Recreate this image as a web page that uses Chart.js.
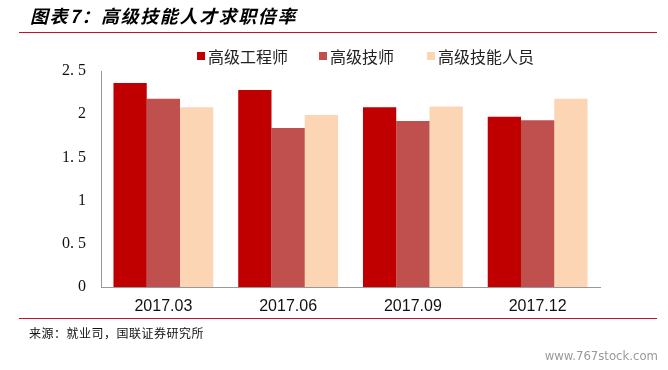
<!DOCTYPE html>
<html>
<head>
<meta charset="utf-8">
<script src="https://cdn.jsdelivr.net/npm/chart.js@4"></script>
<style>
html,body{margin:0;padding:0;background:#fff;}
#wrap{width:668px;height:370px;position:relative;}
</style>
</head>
<body>
<div id="wrap"><canvas id="c" width="668" height="370"></canvas></div>
<script>
const categories = ["2017.03", "2017.06", "2017.09", "2017.12"];
const seriesNames = ["高级工程师", "高级技师", "高级技能人员"];
const seniorEngineer = [2.36, 2.28, 2.08, 1.97];
const seniorTechnician = [2.18, 1.84, 1.92, 1.93];
const seniorSkilled = [2.08, 1.99, 2.09, 2.18];
const yTickLabels = {0: "0", 0.5: "0. 5", 1: "1", 1.5: "1. 5", 2: "2", 2.5: "2. 5"};
const titleText = "图表7：高级技能人才求职倍率";
const sourceText = "来源：就业司，国联证券研究所";
const watermarkText = "www.767stock.com";

const colors = ["#C00000", "#C0504D", "#FCD5B5"];

const decor = {
  id: "decor",
  afterDraw(chart) {
    const ctx = chart.ctx;
    ctx.save();
    // title
    ctx.fillStyle = "#000";
    ctx.font = "italic bold 18px 'Noto Sans CJK SC'";
    ctx.textBaseline = "middle";
    ctx.textAlign = "left";
    try { ctx.letterSpacing = "1.6px"; } catch(e) {}
    ctx.fillText(titleText, 30, 16);
    try { ctx.letterSpacing = "0px"; } catch(e) {}
    // red rules
    ctx.strokeStyle = "#C8102E";
    ctx.lineWidth = 1;
    ctx.beginPath();
    ctx.moveTo(19, 32.5); ctx.lineTo(657, 32.5);
    ctx.moveTo(19, 318.5); ctx.lineTo(657, 318.5);
    ctx.stroke();
    // source
    ctx.fillStyle = "#111";
    ctx.font = "12px 'Noto Sans CJK SC'";
    try { ctx.letterSpacing = "0.5px"; } catch(e) {}
    ctx.fillText(sourceText, 29, 333);
    try { ctx.letterSpacing = "0px"; } catch(e) {}
    // watermark
    ctx.fillStyle = "#9a9a9a";
    ctx.font = "13px 'DejaVu Sans Condensed', 'DejaVu Sans'";
    ctx.textAlign = "right";
    ctx.fillText(watermarkText, 658, 357);
    // legend
    const legendX = [197, 319, 427];
    ctx.textAlign = "left";
    ctx.font = "16px 'Noto Sans CJK SC'";
    chart.data.datasets.forEach((ds, i) => {
      ctx.fillStyle = ds.backgroundColor;
      ctx.fillRect(legendX[i], 52, 8, 8);
      ctx.fillStyle = "#222";
      ctx.fillText(ds.label, legendX[i] + 11, 57);
    });
    ctx.restore();
  }
};

new Chart(document.getElementById("c"), {
  type: "bar",
  data: {
    labels: categories,
    datasets: [
      { label: seriesNames[0], data: seniorEngineer, backgroundColor: colors[0] },
      { label: seriesNames[1], data: seniorTechnician, backgroundColor: colors[1] },
      { label: seriesNames[2], data: seniorSkilled, backgroundColor: colors[2] }
    ]
  },
  options: {
    responsive: false,
    animation: false,
    events: [],
    layout: { padding: { left: 0, top: 71, right: 68, bottom: 53 } },
    datasets: { bar: { categoryPercentage: 0.8, barPercentage: 1.0 } },
    plugins: { legend: { display: false }, tooltip: { enabled: false }, title: { display: false } },
    scales: {
      x: {
        grid: { display: false, drawTicks: false },
        border: { display: true, color: "#999", width: 1 },
        ticks: { color: "#111", font: { family: "'Liberation Sans'", size: 16 }, padding: 10, maxRotation: 0 },
        afterFit(s) { s.height = 30; }
      },
      y: {
        min: 0, max: 2.5,
        grid: { display: false, drawTicks: false },
        border: { display: true, color: "#999", width: 1 },
        ticks: {
          stepSize: 0.5,
          color: "#111",
          padding: 15,
          font: { family: "'Liberation Serif'", size: 16 },
          callback: (v) => yTickLabels[v] !== undefined ? yTickLabels[v] : v
        },
        afterFit(s) { s.width = 101; }
      }
    }
  },
  plugins: [decor]
});
</script>
</body>
</html>
